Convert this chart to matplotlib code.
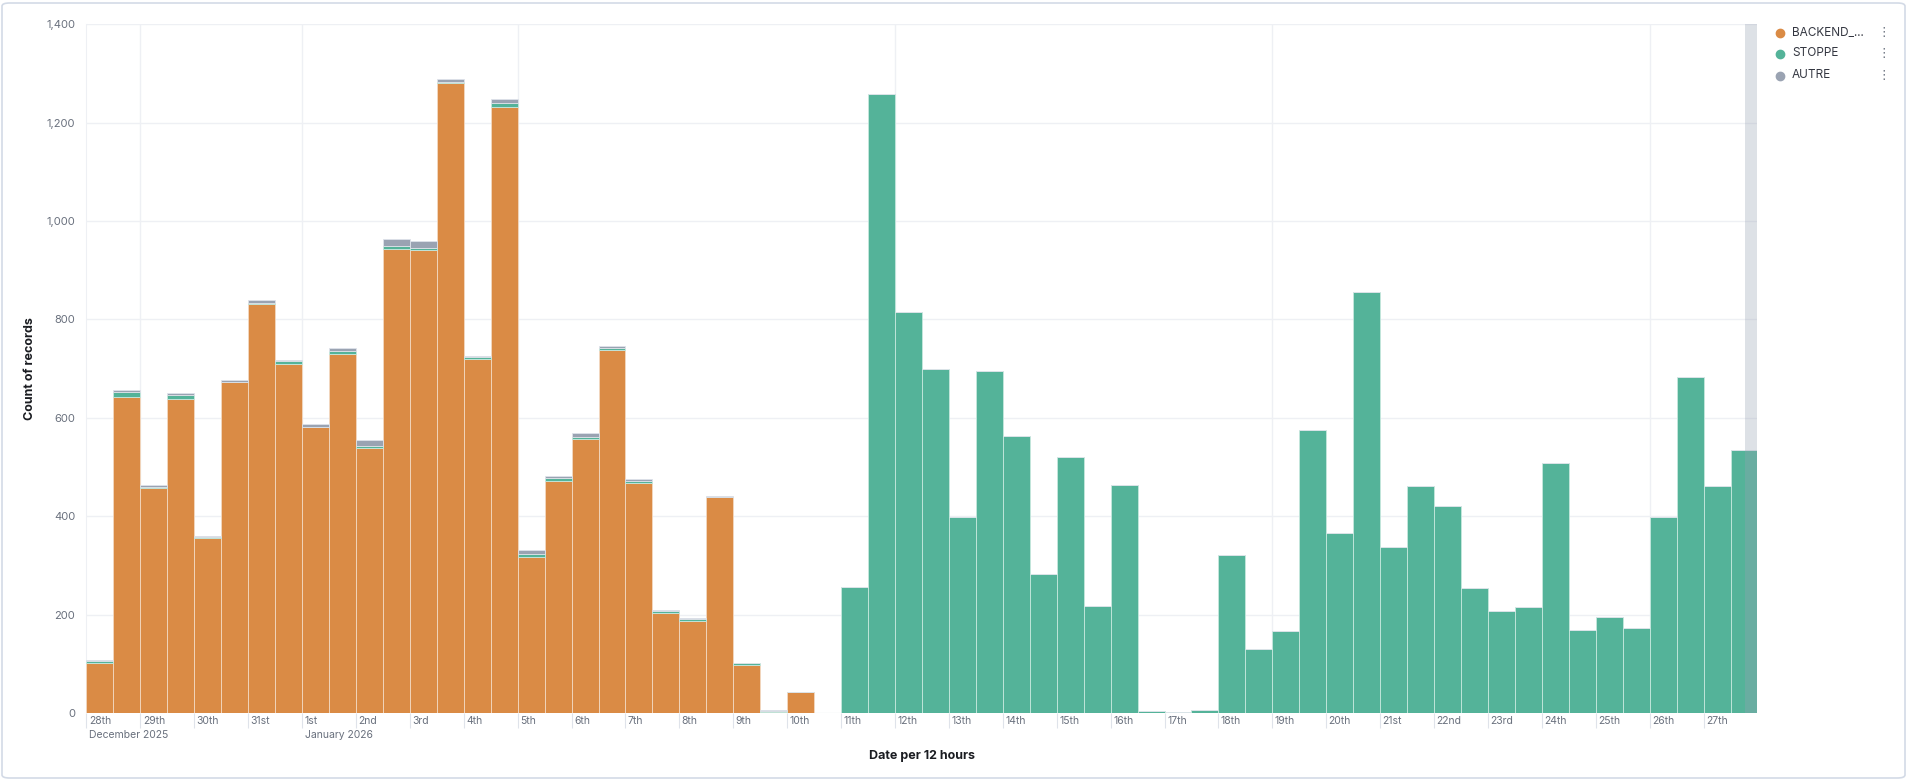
import datetime as dt
import matplotlib
matplotlib.use("Agg")
import matplotlib.pyplot as plt
import matplotlib.transforms as mtransforms
from matplotlib.lines import Line2D
from matplotlib.patches import FancyBboxPatch
import numpy as np

plt.rcParams['font.family'] = ['Inter', 'DejaVu Sans']

# 12-hour bins from 28 Dec 2025 00:00 to 28 Jan 2026 00:00 (62 bins)
start = dt.datetime(2025, 12, 28)
n_days = 31

backend = [101, 643, 458, 639, 355, 672, 832, 710, 581, 729, 538, 944, 941, 1280,
           720, 1232, 318, 472, 557, 737, 467, 204, 188, 439, 98, 2, 43, 0] + [0] * 34
stoppe = [5, 10, 1, 8, 3, 1, 1, 5, 1, 6, 5, 5, 5, 3, 3, 8, 5, 5, 4, 5, 4, 4, 4, 1,
          3, 2, 0, 0,
          257, 1259, 815, 700, 399, 696, 564, 283, 521, 217, 464, 5, 2, 7, 321, 130,
          167, 576, 365, 856, 338, 461, 421, 255, 207, 216, 508, 169, 195, 173, 398,
          683, 461, 534]
autre = [2, 4, 5, 4, 2, 3, 6, 3, 5, 7, 12, 15, 14, 5, 3, 8, 9, 5, 9, 4, 4, 2, 2, 2,
         1, 3, 0, 0] + [0] * 34

series_names = ['BACKEND_...', 'STOPPE', 'AUTRE']
colors = ['#DA8B45', '#54B399', '#9AA3B2']
edge_colors = ['#f3d9c2', '#c6e8de', '#dfe3ea']

# vertical grid: Mondays and the new year
grid_days = [dt.datetime(2025, 12, 29), dt.datetime(2026, 1, 1), dt.datetime(2026, 1, 5),
             dt.datetime(2026, 1, 12), dt.datetime(2026, 1, 19), dt.datetime(2026, 1, 26)]


def ordinal(d):
    if 10 <= d % 100 <= 20:
        suf = 'th'
    else:
        suf = {1: 'st', 2: 'nd', 3: 'rd'}.get(d % 10, 'th')
    return f"{d}{suf}"


fig = plt.figure(figsize=(19.08, 7.8), dpi=100)
ax = fig.add_axes([86.4 / 1908, 67 / 780, (1757.5 - 86.4) / 1908, (713 - 24.3) / 780])

x = np.arange(len(backend)) * 0.5
bottom = np.zeros(len(backend))
for vals, col, ecol in zip([backend, stoppe, autre], colors, edge_colors):
    vals = np.array(vals, dtype=float)
    ax.bar(x, vals, width=0.5, bottom=bottom, align='edge', color=col,
           edgecolor=ecol, linewidth=0.6, zorder=3)
    bottom += vals

ax.set_xlim(0, n_days)
ax.set_ylim(0, 1400)

# grid
grid_col = '#eef0f4'
ax.set_yticks(range(0, 1401, 200))
ax.set_yticklabels([f"{v:,}" for v in range(0, 1401, 200)], color='#69707d', fontsize=8)
ax.yaxis.grid(True, color=grid_col, linewidth=1, zorder=0)
for g in grid_days:
    ax.axvline((g - start).days, color=grid_col, linewidth=1, zorder=0)
ax.tick_params(axis='y', length=0, pad=8)

# x ticks per day, labels left-aligned next to tick marks
days = [start + dt.timedelta(days=i) for i in range(n_days)]
ax.set_xticks(range(n_days))
ax.set_xticklabels([ordinal(d.day) for d in days], color='#69707d', fontsize=7.5,
                   ha='left')
ax.tick_params(axis='x', length=11, width=0.8, color='#dfe3ea', pad=-9)
offset = mtransforms.ScaledTranslation(2.5 / 100, 0, fig.dpi_scale_trans)
for lbl in ax.get_xticklabels():
    lbl.set_transform(lbl.get_transform() + offset)

trans = mtransforms.blended_transform_factory(ax.transData, ax.transAxes)
for d in days:
    if d == start or d.day == 1:
        ax.text((d - start).days, -0.024, d.strftime('%B %Y'), transform=trans + offset,
                ha='left', va='top', fontsize=7.5, color='#69707d')

for side in ['top', 'right', 'bottom']:
    ax.spines[side].set_visible(False)
ax.spines['left'].set_color(grid_col)

# shaded "current" partial bucket at the end
ax.axvspan(30.76, 31, color='#98a2b3', alpha=0.32, linewidth=0, zorder=4)

ax.set_ylabel('Count of records', fontsize=9, fontweight='bold', color='#1a1c21')
ax.yaxis.set_label_coords(-0.030, 0.5)
ax.set_xlabel('Date per 12 hours', fontsize=9, fontweight='bold', color='#1a1c21')
ax.xaxis.set_label_coords(0.5, -0.054)

# legend on the right
ys = [32.7, 53.5, 75.5]
for name, col, yp in zip(series_names, colors, ys):
    fy = 1 - yp / 780
    fig.add_artist(Line2D([1780 / 1908], [fy], marker='o', markersize=6,
                          color=col, linestyle='none', transform=fig.transFigure))
    fig.text(1792 / 1908, fy, name, fontsize=8.5, color='#343741', va='center',
             ha='left')
    fig.text(1884 / 1908, fy, '\u22ee', fontsize=9, color='#69707d', va='center',
             ha='center', family='DejaVu Sans')

# panel border
fig.add_artist(FancyBboxPatch((2 / 1908, 2 / 780), 1903 / 1908, 775 / 780,
                              boxstyle='round,pad=0,rounding_size=0.004',
                              transform=fig.transFigure, facecolor='none',
                              edgecolor='#d3dae6', linewidth=1.2))

fig.savefig('out.png', dpi=100, facecolor='white')
